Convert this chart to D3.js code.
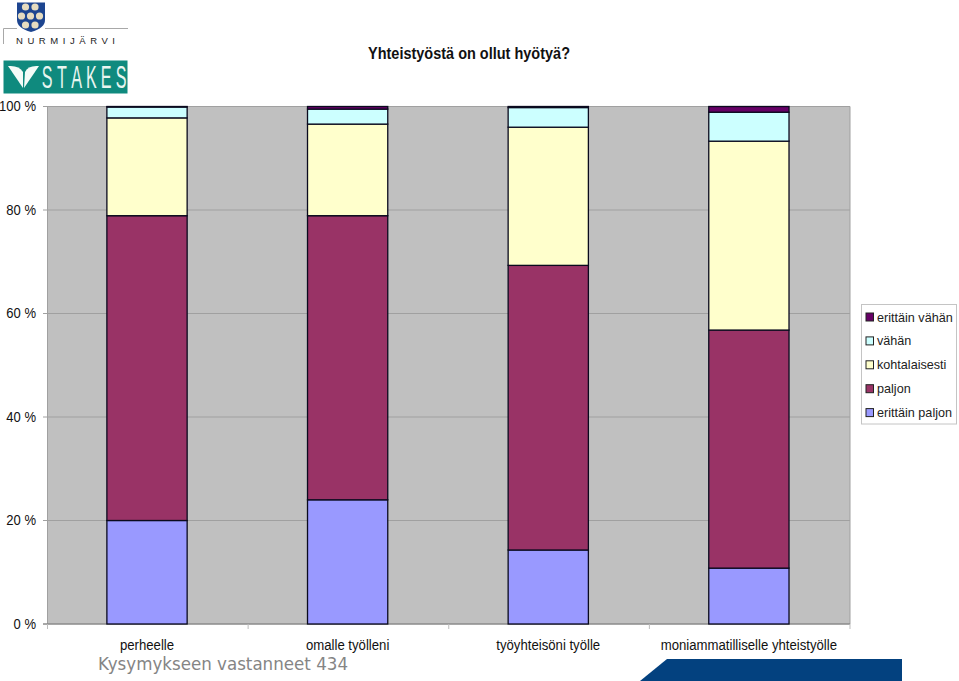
<!DOCTYPE html>
<html><head><meta charset="utf-8">
<script src="https://cdn.jsdelivr.net/npm/d3@7"></script>
<style>html,body{margin:0;padding:0;background:#fff;overflow:hidden}svg{display:block}text{font-family:"Liberation Sans",Arial,sans-serif}</style>
</head><body><svg id="c" width="959" height="681"></svg>
<script>
const categories=["perheelle","omalle työlleni","työyhteisöni työlle","moniammatilliselle yhteistyölle"];
const seriesNames=["erittäin paljon","paljon","kohtalaisesti","vähän","erittäin vähän"];
const erittainPaljon=[20,24,14.3,10.8];
const paljon=[58.9,54.9,55,46];
const kohtalaisesti=[18.9,17.7,26.7,36.5];
const vahan=[2.1,2.9,3.8,5.6];
const erittainVahan=[0.1,0.5,0.2,1.1];
const colors=["#9999ff","#993366","#ffffcc","#ccffff","#660066"];
const yTicks=[0,20,40,60,80,100];
const svg=d3.select("#c");
function squeeze(sel,k){sel.each(function(){const t=this;const w=t.getComputedTextLength();t.setAttribute("textLength",w*k);t.setAttribute("lengthAdjust","spacingAndGlyphs");});}
const rows=categories.map((c,i)=>({cat:c,"erittäin paljon":erittainPaljon[i],"paljon":paljon[i],"kohtalaisesti":kohtalaisesti[i],"vähän":vahan[i],"erittäin vähän":erittainVahan[i]}));
const stacked=d3.stack().keys(seriesNames)(rows);
const x=d3.scaleBand().domain(categories).range([46.7,849.2]).paddingInner(0.6).paddingOuter(0.3);
const y=d3.scaleLinear().domain([0,100]).range([624,106.5]);
svg.append("rect").attr("x",47.5).attr("y",y(100)).attr("width",802.5).attr("height",y(0)-y(100)).attr("fill","#c0c0c0");
svg.append("g").selectAll("line").data(yTicks).join("line")
 .attr("x1",43).attr("x2",850).attr("y1",d=>y(d)).attr("y2",d=>y(d)).attr("stroke","#a0a0a0").attr("stroke-width",1);
svg.append("line").attr("x1",47.5).attr("x2",47.5).attr("y1",y(100)).attr("y2",y(0)).attr("stroke","#a0a0a0");
svg.append("line").attr("x1",850).attr("x2",850).attr("y1",y(100)).attr("y2",y(0)).attr("stroke","#a0a0a0");
svg.append("line").attr("x1",43).attr("x2",850).attr("y1",y(0)).attr("y2",y(0)).attr("stroke","#808080");
const step=802.5/categories.length;
svg.append("g").selectAll("line").data(d3.range(categories.length+1)).join("line")
 .attr("x1",i=>47.5+i*step).attr("x2",i=>47.5+i*step).attr("y1",y(0)).attr("y2",y(0)+5).attr("stroke","#bdbdbd");
svg.append("g").selectAll("g").data(stacked).join("g").attr("fill",(d,i)=>colors[i])
 .selectAll("rect").data(d=>d).join("rect")
 .attr("x",d=>x(d.data.cat)).attr("width",x.bandwidth())
 .attr("y",d=>y(d[1])).attr("height",d=>y(d[0])-y(d[1]))
 .attr("stroke","#0a0a1e").attr("stroke-width",1.3);
svg.append("g").selectAll("text").data(yTicks).join("text")
 .attr("x",36).attr("y",d=>y(d)+4.5).attr("text-anchor","end").attr("font-size",14).attr("fill","#111").text(d=>d+" %").call(squeeze,0.93);
svg.append("g").selectAll("text").data(categories).join("text")
 .attr("x",d=>x(d)+x.bandwidth()/2).attr("y",650).attr("text-anchor","middle").attr("font-size",14).attr("fill","#111").text(d=>d).call(squeeze,0.94);
svg.append("text").attr("x",469).attr("y",59).attr("text-anchor","middle").attr("font-size",17).attr("font-weight","bold").attr("fill","#111").text("Yhteistyöstä on ollut hyötyä?").attr("textLength",202).attr("lengthAdjust","spacingAndGlyphs");
svg.append("rect").attr("x",861.5).attr("y",304.5).attr("width",95).attr("height",119.5).attr("fill","#fff").attr("stroke","#c4c4c4");
const lg=svg.append("g").selectAll("g").data(seriesNames.slice().reverse()).join("g").attr("transform",(d,i)=>`translate(866,${317+i*23.9})`);
lg.append("rect").attr("x",0).attr("y",-4).attr("width",7.5).attr("height",8).attr("stroke","#222").attr("fill",d=>colors[seriesNames.indexOf(d)]);
lg.append("text").attr("x",11).attr("y",4.5).attr("font-size",13).attr("fill","#222").text(d=>d).call(squeeze,0.97);
svg.append("text").attr("x",98).attr("y",670).attr("style","font-family:'DejaVu Sans'").attr("font-size",17).attr("fill","#858585").text("Kysymykseen vastanneet 434").attr("textLength",250).attr("lengthAdjust","spacingAndGlyphs");
svg.append("path").attr("d","M667 659H902V681H640Z").attr("fill","#03417f");
svg.append("path").attr("d","M17 2.5H45V20Q45 28 31 32Q17 28 17 20Z").attr("fill","#1d4590");
const dots=[[25.5,7],[35,7],[21.5,16],[30.5,16],[39.5,16],[25.5,25],[35,25]];
svg.append("g").selectAll("circle").data(dots).join("circle").attr("cx",d=>d[0]).attr("cy",d=>d[1]).attr("r",3.6).attr("fill","#e6dcc0");
svg.append("path").attr("d","M3.5 44V28.5H17M45 28.5H128").attr("fill","none").attr("stroke","#a8a8a8").attr("stroke-width",1);
svg.append("text").attr("x",16).attr("y",44).attr("font-size",9.5).attr("fill","#222").attr("textLength",99).text("NURMIJÄRVI");
svg.append("rect").attr("x",3.5).attr("y",60.5).attr("width",124).attr("height",33).attr("fill","#0f8a7e");
svg.append("path").attr("d","M8 66Q19 65 23 72L23 88Z").attr("fill","#f4fbf8");
svg.append("path").attr("d","M39 66Q28 65 25 72L24 88Z").attr("fill","#f4fbf8");
const logoLetters=["S","T","A","K","E","S"];
svg.append("g").selectAll("text").data(logoLetters).join("text")
 .attr("transform",(d,i)=>`translate(${47+i*14.8},88) scale(0.52,1)`).attr("text-anchor","middle").attr("font-size",31).attr("fill","#e8f5f0").text(d=>d);
</script></body></html>
